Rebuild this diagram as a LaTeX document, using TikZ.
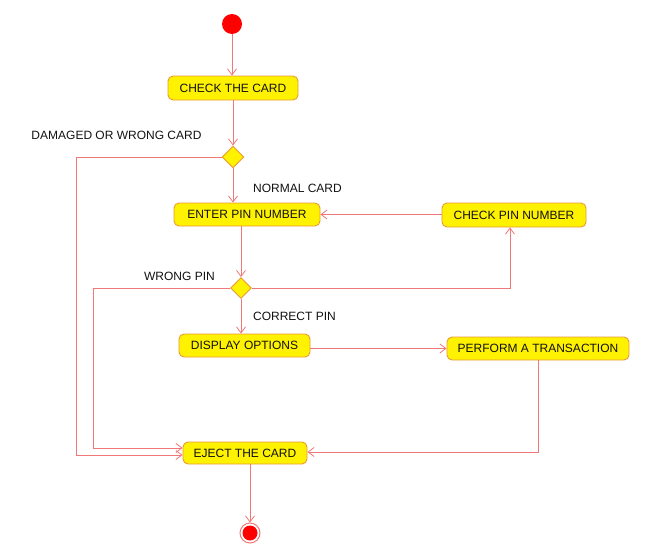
\documentclass[tikz,border=0pt]{standalone}
\usepackage{fontspec}
\setmainfont{Liberation Sans}
\usetikzlibrary{shapes.geometric,arrows.meta}
\definecolor{lred}{HTML}{F07878}
\definecolor{boxborder}{HTML}{E89A3A}
\definecolor{boxfill}{HTML}{FFF200}
\definecolor{txt}{HTML}{111111}
\tikzset{
  act/.style={rectangle, rounded corners=5pt, draw=boxborder, fill=boxfill, line width=0.9pt,
    font=\fontsize{12}{14}\selectfont, text=txt, inner sep=0pt},
  dec/.style={diamond, draw=boxborder, fill=boxfill, line width=0.9pt, inner sep=0pt, minimum size=22pt},
  flow/.style={draw=lred, line width=0.8pt, -{Straight Barb[length=6pt,width=9pt]}},
  line/.style={draw=lred, line width=0.8pt},
  lbl/.style={font=\fontsize{12}{14}\selectfont, text=txt, inner sep=0pt}
}
\begin{document}
\begin{tikzpicture}[x=1pt,y=-1pt]
\useasboundingbox (0,0) rectangle (648,557);
\node[circle, fill=red, minimum size=20pt, inner sep=0pt] (start) at (232,24) {};
\node[act, minimum width=130pt, minimum height=24pt] (check) at (233,88) {CHECK THE CARD};
\node[dec] (d1) at (233,157) {};
\node[act, minimum width=146pt, minimum height=23pt] (enter) at (247,214.5) {ENTER PIN NUMBER};
\node[act, minimum width=144pt, minimum height=24pt] (checkpin) at (514,215) {CHECK PIN NUMBER};
\node[dec, minimum size=21pt] (d2) at (241,288) {};
\node[act, minimum width=131pt, minimum height=23pt] (display) at (244.5,345.5) {DISPLAY OPTIONS};
\node[act, minimum width=182pt, minimum height=23pt] (perform) at (538,348.5) {PERFORM A TRANSACTION};
\node[act, minimum width=124pt, minimum height=22pt] (eject) at (245,453) {EJECT THE CARD};
\node[circle, draw=lred, line width=1pt, minimum size=20pt, inner sep=0pt] (end) at (250,533) {};
\fill[red] (end.center) circle (7.5pt);

\node[lbl] (l1) at (116.5,135) {DAMAGED OR WRONG CARD};
\node[lbl] (l2) at (297.5,188) {NORMAL CARD};
\node[lbl] (l3) at (179.5,276) {WRONG PIN};
\node[lbl] (l4) at (294.5,316) {CORRECT PIN};

\coordinate (a1) at (76,157);
\coordinate (a2) at (76,455);
\coordinate (b1) at (93,288);
\coordinate (b2) at (93,448);
\coordinate (c1) at (510,288);
\coordinate (p1) at (538,452);

\draw[flow] (start) -- (check.north -| start);
\draw[flow] (check.south) -- (d1.north);
\draw[flow] (d1.south) -- (d1.south |- enter.north);
\draw[flow] (d1.west) -- (a1) -- (a2) -- (eject.west |- a2);
\draw[flow] (checkpin.west |- enter) -- (enter.east);
\draw[flow] (d2.north |- enter.south) -- (d2.north);
\draw[flow] (d2.east) -- (c1) -- (c1 |- checkpin.south);
\draw[flow] (d2.west) -- (b1) -- (b2) -- (eject.west |- b2);
\draw[flow] (d2.south) -- (d2.south |- display.north);
\draw[flow] (display.east |- perform) -- (perform.west);
\draw[flow] (perform.south) -- (p1) -- (eject.east |- p1);
\draw[flow] (end.north |- eject.south) -- (end.north);
\end{tikzpicture}
\end{document}
